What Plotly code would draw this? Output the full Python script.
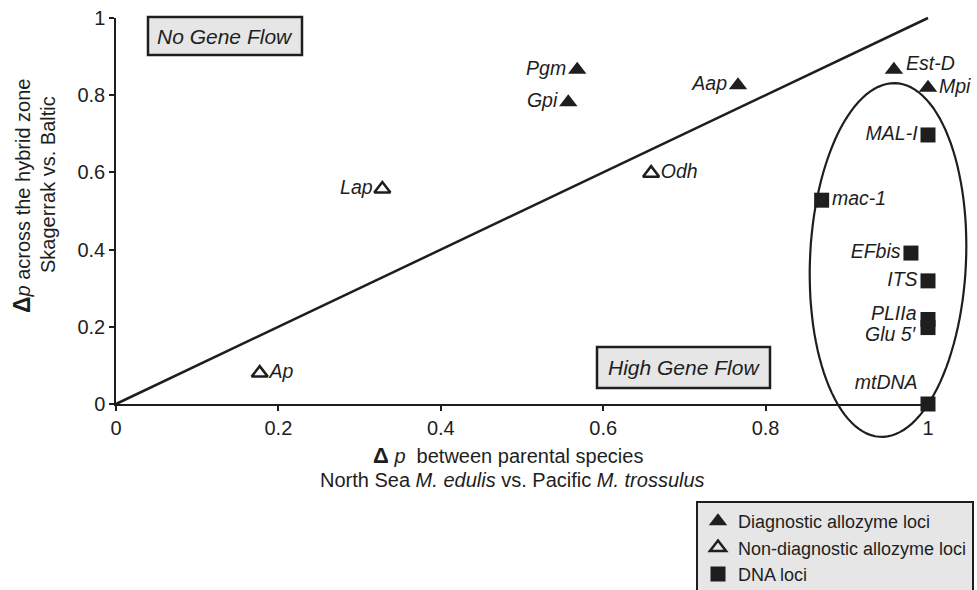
import numpy as np
import plotly.graph_objects as go

# ---- data ----
diag_names = ["Pgm", "Gpi", "Aap", "Est-D", "Mpi"]
diag_x = [0.568, 0.557, 0.766, 0.958, 1.0]
diag_y = [0.866, 0.782, 0.826, 0.866, 0.819]
diag_pos = ["middle left", "middle left", "middle left", "middle right", "middle right"]

nondiag_names = ["Lap", "Odh", "Ap"]
nondiag_x = [0.328, 0.659, 0.177]
nondiag_y = [0.557, 0.598, 0.080]
nondiag_pos = ["middle left", "middle right", "middle right"]

dna_names = ["MAL-I", "mac-1", "EFbis", "ITS", "PLIIa", "Glu 5\u2032", "mtDNA"]
dna_x = [1.0, 0.869, 0.979, 1.0, 1.0, 1.0, 1.0]
dna_y = [0.697, 0.528, 0.391, 0.319, 0.219, 0.198, 0.0]
dna_pos = ["middle left", "middle right", "middle left", "middle left",
           "middle left", "middle left", "top left"]

tick_vals = [0, 0.2, 0.4, 0.6, 0.8, 1]
tick_text = ["0", "0.2", "0.4", "0.6", "0.8", "1"]

INK = "#1e1e1e"
FONT = "Liberation Sans, Arial, sans-serif"
LBL = 19.5

# layout geometry (pixels)
W, H = 977, 590
L, R, T, B = 116, 49, 18, 186
pw, ph = W - L - R, H - T - B

def px_x(p):
    return (p - L) / pw

def px_y(p):
    return (T + ph - p) / ph

fig = go.Figure()

# labels that need a small vertical nudge are drawn as annotations
nudged = {"PLIIa": 6, "Glu 5\u2032": -6, "Est-D": 7}

def label_list(names):
    return ["" if n in nudged else "<i>%s</i>" % n for n in names]

def nudge_labels(names, xs, ys, pos, msize):
    for n, x, y, p in zip(names, xs, ys, pos):
        if n in nudged:
            right = p.endswith("right")
            fig.add_annotation(x=x, y=y, xref="x", yref="y", text="<i>%s</i>" % n,
                               showarrow=False, xanchor="left" if right else "right",
                               yanchor="middle",
                               xshift=(msize / 2 + 2) * (1 if right else -1),
                               yshift=nudged[n], font=dict(size=LBL, color=INK, family=FONT))

fig.add_trace(go.Scatter(
    x=diag_x, y=diag_y, mode="markers+text", text=label_list(diag_names),
    textposition=diag_pos, name="Diagnostic allozyme loci",
    marker=dict(symbol="triangle-up", size=16, color=INK),
    textfont=dict(size=LBL, color=INK, family=FONT), cliponaxis=False))
fig.add_trace(go.Scatter(
    x=nondiag_x, y=nondiag_y, mode="markers+text", text=label_list(nondiag_names),
    textposition=nondiag_pos, name="Non-diagnostic allozyme loci",
    marker=dict(symbol="triangle-up-open", size=14, color=INK, line=dict(width=2.5, color=INK)),
    textfont=dict(size=LBL, color=INK, family=FONT), cliponaxis=False))
fig.add_trace(go.Scatter(
    x=dna_x, y=dna_y, mode="markers+text", text=label_list(dna_names),
    textposition=dna_pos, name="DNA loci",
    marker=dict(symbol="square", size=15, color=INK),
    textfont=dict(size=LBL, color=INK, family=FONT), cliponaxis=False))

nudge_labels(diag_names, diag_x, diag_y, diag_pos, 16)
nudge_labels(dna_names, dna_x, dna_y, dna_pos, 15)

# diagonal y = x  (axis range is [0,1], so paper coords equal data coords)
fig.add_shape(type="line", x0=0, y0=0, x1=1, y1=1, xref="paper", yref="paper",
              line=dict(color=INK, width=2.5), layer="below")

# ellipse around DNA loci (pixel parameters converted to paper units)
cx_px, cy_px, a_px, b_px, tilt = 888, 260, 78, 177, np.radians(2.5)
t = np.linspace(0, 2 * np.pi, 120)
ex = a_px * np.cos(t)
ey = b_px * np.sin(t)
rx = ex * np.cos(tilt) + ey * np.sin(tilt)
ry = -ex * np.sin(tilt) + ey * np.cos(tilt)
X = (cx_px - L + rx) / pw
Y = ((T + ph) - cy_px + ry) / ph
path = "M " + " L ".join("%.4f,%.4f" % (u, v) for u, v in zip(X, Y)) + " Z"
fig.add_shape(type="path", path=path, xref="paper", yref="paper",
              line=dict(color=INK, width=2.2), layer="above")

# labelled boxes
def box_label(txt, x0, y0, x1, y1):
    fig.add_shape(type="rect", xref="paper", yref="paper",
                  x0=px_x(x0), x1=px_x(x1), y0=px_y(y1), y1=px_y(y0),
                  line=dict(color=INK, width=2.5), fillcolor="#e6e6e6", layer="below")
    fig.add_annotation(x=px_x((x0 + x1) / 2), y=px_y((y0 + y1) / 2),
                       xref="paper", yref="paper", text="<i>%s</i>" % txt, showarrow=False,
                       xanchor="center", yanchor="middle",
                       font=dict(size=21, color=INK, family=FONT))

box_label("No Gene Flow", 148, 17, 302, 55)
box_label("High Gene Flow", 597, 347, 770, 388)

axis_common = dict(range=[0, 1], tickvals=tick_vals, ticktext=tick_text,
                   showgrid=False, zeroline=False, showline=True,
                   linecolor=INK, linewidth=1.5, ticks="outside", ticklen=5,
                   tickwidth=1.5, tickcolor=INK,
                   tickfont=dict(size=20, color=INK, family=FONT))

fig.update_xaxes(**axis_common)
fig.update_yaxes(**axis_common)

# axis titles as annotations
TF = dict(size=20, color=INK, family=FONT)
fig.add_annotation(xref="paper", yref="paper", x=px_x(508), y=px_y(455),
                   xanchor="center", yanchor="middle",
                   text="<b><span style='font-size:22px'>\u0394</span></b> <i>p</i>  between parental species",
                   showarrow=False, font=TF)
fig.add_annotation(xref="paper", yref="paper", x=px_x(512), y=px_y(480),
                   xanchor="center", yanchor="middle",
                   text="North Sea <i>M. edulis</i> vs. Pacific <i>M. trossulus</i>",
                   showarrow=False, font=TF)
fig.add_annotation(xref="paper", yref="paper", x=px_x(22), y=px_y(196),
                   xanchor="center", yanchor="middle",
                   text="<b><span style='font-size:23px'>\u0394</span></b><i>p</i> across the hybrid zone",
                   textangle=-90, showarrow=False, font=TF)
fig.add_annotation(xref="paper", yref="paper", x=px_x(48), y=px_y(185),
                   xanchor="center", yanchor="middle",
                   text="Skagerrak vs. Baltic",
                   textangle=-90, showarrow=False, font=TF)

fig.update_layout(
    width=W, height=H,
    margin=dict(l=L, r=R, t=T, b=B, autoexpand=False),
    paper_bgcolor="white", plot_bgcolor="white",
    showlegend=True,
    legend=dict(x=px_x(696), y=px_y(501), xanchor="left", yanchor="top",
                bgcolor="#e6e6e6", bordercolor=INK, borderwidth=2,
                font=dict(size=18, color=INK, family=FONT),
                itemwidth=30, tracegroupgap=0),
)

fig.write_html("out.html", config={"displayModeBar": False},
               post_script="document.body.style.margin='0';document.body.style.overflow='hidden';")
